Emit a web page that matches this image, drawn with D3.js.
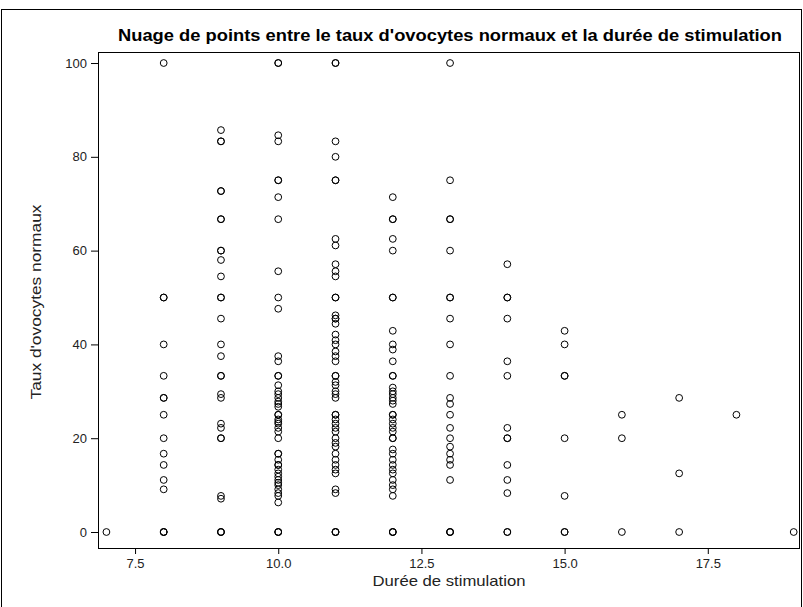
<!DOCTYPE html>
<html>
<head>
<meta charset="utf-8">
<script src="https://cdn.jsdelivr.net/npm/d3@7/dist/d3.min.js"></script>
<style>
  html, body { margin: 0; padding: 0; background: #fff; }
  svg { display: block; }
  text { font-family: "Liberation Sans", Arial, sans-serif; }
</style>
</head>
<body>
<svg id="chart" width="803" height="607"></svg>
<script>
// ---- data ----
const durations = [7, 8, 9, 10, 11, 12, 13, 14, 15, 16, 17, 18, 19];
const taux7  = [0];
const taux8  = [100, 50, 50, 40, 33.3, 28.6, 28.6, 25, 20, 16.7, 14.3, 11.1, 9.1, 0, 0, 0];
const taux9  = [85.7, 83.3, 83.3, 72.7, 72.7, 66.7, 66.7, 60, 60, 58, 54.5, 50, 50, 45.5, 40, 37.5,
                33.3, 33.3, 29.4, 28.6, 23.1, 22.2, 20, 20, 7.7, 7.1, 0, 0, 0];
const taux10 = [100, 100, 84.6, 83.3, 75, 75, 71.4, 66.7, 55.6, 50, 47.6, 37.5, 36.4, 33.3, 33.3,
                31.3, 30, 29.4, 28.6, 27.8, 27.3, 26.7, 25, 25, 24, 23.5, 23.1, 22.2, 21.4, 20,
                16.7, 16.7, 15.4, 14.3, 14.3, 13.3, 12.5, 11.8, 11.1, 10.5, 10, 9.1, 8.3, 7.7, 6.3, 0, 0, 0];
const taux11 = [100, 100, 83.3, 80, 75, 75, 62.5, 61.1, 57.1, 55.6, 54.5, 50, 50, 46.2, 45.5, 45.5, 44.4,
                42.1, 40.9, 40, 38.5, 37.5, 36.4, 33.3, 33.3, 32, 31.3, 30, 29.4, 28.6,
                25, 25, 24, 23.1, 22.2, 21.4, 20, 19, 18.2, 16.7, 15.4, 14.3, 13.3, 12.5, 9.1, 8.3, 0, 0, 0];
const taux12 = [71.4, 66.7, 66.7, 62.5, 60, 50, 50, 42.9, 40, 38.9, 36.4, 33.3, 33.3, 30.8, 30, 29.4,
                28.6, 28, 27.3, 25, 25, 24, 23.1, 22.2, 21.4, 20, 20, 17.6, 16.7, 15.4, 14.3, 13.3,
                12.5, 11.1, 10, 9.1, 7.7, 0, 0, 0];
const taux13 = [100, 75, 66.7, 66.7, 60, 50, 50, 45.5, 40, 33.3, 28.6, 27.3, 25, 22.2, 20, 18.2,
                16.7, 15.4, 14.3, 11.1, 0, 0, 0];
const taux14 = [57.1, 50, 50, 45.5, 36.4, 33.3, 22.2, 20, 20, 14.3, 11.1, 8.3, 0, 0];
const taux15 = [42.9, 40, 33.3, 33.3, 20, 7.7, 0, 0];
const taux16 = [25, 20, 0];
const taux17 = [28.6, 12.5, 0];
const taux18 = [25];
const taux19 = [0];
const tauxByDuration = [taux7, taux8, taux9, taux10, taux11, taux12, taux13, taux14, taux15, taux16, taux17, taux18, taux19];

const xTicks = [7.5, 10, 12.5, 15, 17.5];
const yTicks = [0, 20, 40, 60, 80, 100];

const title = "Nuage de points entre le taux d'ovocytes normaux et la durée de stimulation";
const xLabel = "Durée de stimulation";
const yLabel = "Taux d'ovocytes normaux";

// ---- build points ----
const points = [];
durations.forEach((d, i) => tauxByDuration[i].forEach(v => points.push({ d, v })));

// ---- layout ----
const svg = d3.select("#chart");
const plot = { left: 98, right: 800, top: 52, bottom: 548 };

const x = d3.scaleLinear().domain([6.853, 19.11]).range([plot.left, plot.right]);
const y = d3.scaleLinear().domain([-3.41, 102.35]).range([plot.bottom, plot.top]);

// outer border
svg.append("rect")
  .attr("x", 1.5).attr("y", 9.5).attr("width", 800).attr("height", 605)
  .attr("fill", "none").attr("stroke", "#000").attr("stroke-width", 1);

// title
svg.append("text")
  .attr("x", 450).attr("y", 41)
  .attr("text-anchor", "middle")
  .attr("font-size", 16.5).attr("font-weight", "bold").attr("fill", "#000")
  .attr("textLength", 664).attr("lengthAdjust", "spacingAndGlyphs")
  .text(title);

// axes
const xAxis = svg.append("g")
  .attr("transform", `translate(0,${plot.bottom})`)
  .call(d3.axisBottom(x).tickValues(xTicks).tickFormat(d3.format(".1f")).tickSize(6).tickPadding(5));
const yAxis = svg.append("g")
  .attr("transform", `translate(${plot.left},0)`)
  .call(d3.axisLeft(y).tickValues(yTicks).tickFormat(d3.format("d")).tickSize(7).tickPadding(4));

[xAxis, yAxis].forEach(g => {
  g.select(".domain").remove();
  g.selectAll("line").attr("stroke", "#000");
  g.selectAll("text").attr("font-size", 13).attr("fill", "#222")
    .attr("font-family", '"Liberation Sans", Arial, sans-serif');
});

// plot frame
svg.append("rect")
  .attr("x", plot.left + 0.5).attr("y", plot.top + 0.5)
  .attr("width", plot.right - plot.left - 1).attr("height", plot.bottom - plot.top)
  .attr("fill", "none").attr("stroke", "#000").attr("stroke-width", 1);

// axis labels
svg.append("text")
  .attr("x", 449).attr("y", 586)
  .attr("text-anchor", "middle").attr("font-size", 14.5).attr("fill", "#222")
  .attr("textLength", 153).attr("lengthAdjust", "spacingAndGlyphs")
  .text(xLabel);
svg.append("text")
  .attr("transform", `translate(41,${(plot.top + plot.bottom) / 2 + 2}) rotate(-90)`)
  .attr("text-anchor", "middle").attr("font-size", 14.5).attr("fill", "#222")
  .attr("textLength", 195).attr("lengthAdjust", "spacingAndGlyphs")
  .text(yLabel);

// points
svg.append("g").selectAll("circle").data(points).join("circle")
  .attr("cx", p => x(p.d)).attr("cy", p => y(p.v))
  .attr("r", 3.4)
  .attr("fill", "none").attr("stroke", "#000").attr("stroke-width", 1);
</script>
</body>
</html>
